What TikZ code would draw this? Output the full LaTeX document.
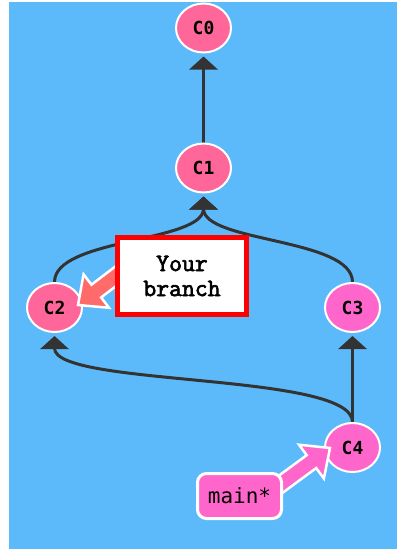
\documentclass[tikz,border=0pt]{standalone}
\usepackage{fontspec}
\usetikzlibrary{shapes.geometric,arrows.meta,calc}
\newfontfamily\cmono{DejaVu Sans Mono}
\newfontfamily\courb[FakeBold=2.5]{Latin Modern Mono}
\definecolor{bgblue}{HTML}{5CBAFA}
\definecolor{pinkA}{HTML}{FF6699}
\definecolor{pinkB}{HTML}{FF66CC}
\definecolor{salmon}{HTML}{FF6B6B}
\definecolor{edgegray}{HTML}{333333}
\pgfdeclarelayer{back}
\pgfdeclarelayer{bg}
\pgfdeclarelayer{arrowlayer}
\pgfdeclarelayer{front}
\pgfsetlayers{back,bg,main,arrowlayer,front}
\begin{document}
\begin{tikzpicture}[x=1pt,y=-1pt,
  commit/.style={ellipse,draw=white,line width=2pt,minimum width=55pt,minimum height=49pt,inner sep=0pt,
    font=\cmono\bfseries\fontsize{18}{18}\selectfont},
  edge/.style={draw=edgegray,line width=3pt,shorten >=3pt,-{Triangle[width=28pt,length=13pt]}},
  fatarrow/.style={draw=white,line width=2.5pt,line join=miter},
  branchbox/.style={rectangle,rounded corners=9pt,fill=pinkB,draw=white,line width=3pt,
    minimum width=84pt,minimum height=45pt,inner sep=0pt,font=\cmono\fontsize{21}{21}\selectfont},
  notebox/.style={rectangle,fill=white,draw=red,line width=4.5pt,minimum width=129pt,minimum height=77pt,
    inner sep=0pt,align=center,font=\courb\fontsize{25}{25}\selectfont}]
\useasboundingbox (0,0) rectangle (397,549);
\begin{pgfonlayer}{back}
\fill[white] (0,0) rectangle (397,549);
\fill[bgblue] (9,2) rectangle (397,549);
\end{pgfonlayer}

% commits
\node[commit,fill=pinkA] (c0) at (203.5,28) {C0};
\node[commit,fill=pinkA] (c1) at (203.5,168) {C1};
\node[commit,fill=pinkA] (c2) at (54.5,307.5) {C2};
\node[commit,fill=pinkB] (c3) at (352.5,307.5) {C3};
\node[commit,fill=pinkB] (c4) at (352.5,447.5) {C4};

% labels
\begin{pgfonlayer}{front}
\node[notebox] (yb) at (182,276) {Your\\branch};
\node[branchbox] (mn) at (239.5,496) {main*};
\end{pgfonlayer}

% edges
\begin{pgfonlayer}{bg}
\draw[edge] (c1.north) -- (c0.south);
\draw[edge] (c2.north) .. controls +(0,-44) and +(0,49) .. (c1.south);
\draw[edge] (c3.north) .. controls +(0,-44) and +(0,49) .. (c1.south);
\draw[edge] (c4.north) .. controls +(0,-50) and +(0,54) .. (c2.south);
\draw[edge] (c4.north) -- (c3.south);
\end{pgfonlayer}

% fat arrows
\begin{pgfonlayer}{arrowlayer}
\coordinate (ybs) at (141,257);
\coordinate (ybt) at (78,305);
\coordinate (ybb) at ($(ybt)!23pt!(ybs)$);
\filldraw[fatarrow,fill=salmon]
  ($(ybs)!8pt!90:(ybt)$) -- ($(ybb)!8pt!90:(ybt)$) -- ($(ybb)!21pt!90:(ybt)$) -- (ybt)
  -- ($(ybb)!21pt!-90:(ybt)$) -- ($(ybb)!8pt!-90:(ybt)$) -- ($(ybs)!8pt!-90:(ybt)$) -- cycle;
\coordinate (mns) at (262,498);
\coordinate (mnt) at (330,448);
\coordinate (mnb) at ($(mnt)!23pt!(mns)$);
\filldraw[fatarrow,fill=pinkB]
  ($(mns)!8pt!90:(mnt)$) -- ($(mnb)!8pt!90:(mnt)$) -- ($(mnb)!21pt!90:(mnt)$) -- (mnt)
  -- ($(mnb)!21pt!-90:(mnt)$) -- ($(mnb)!8pt!-90:(mnt)$) -- ($(mns)!8pt!-90:(mnt)$) -- cycle;
\end{pgfonlayer}
\end{tikzpicture}
\end{document}
